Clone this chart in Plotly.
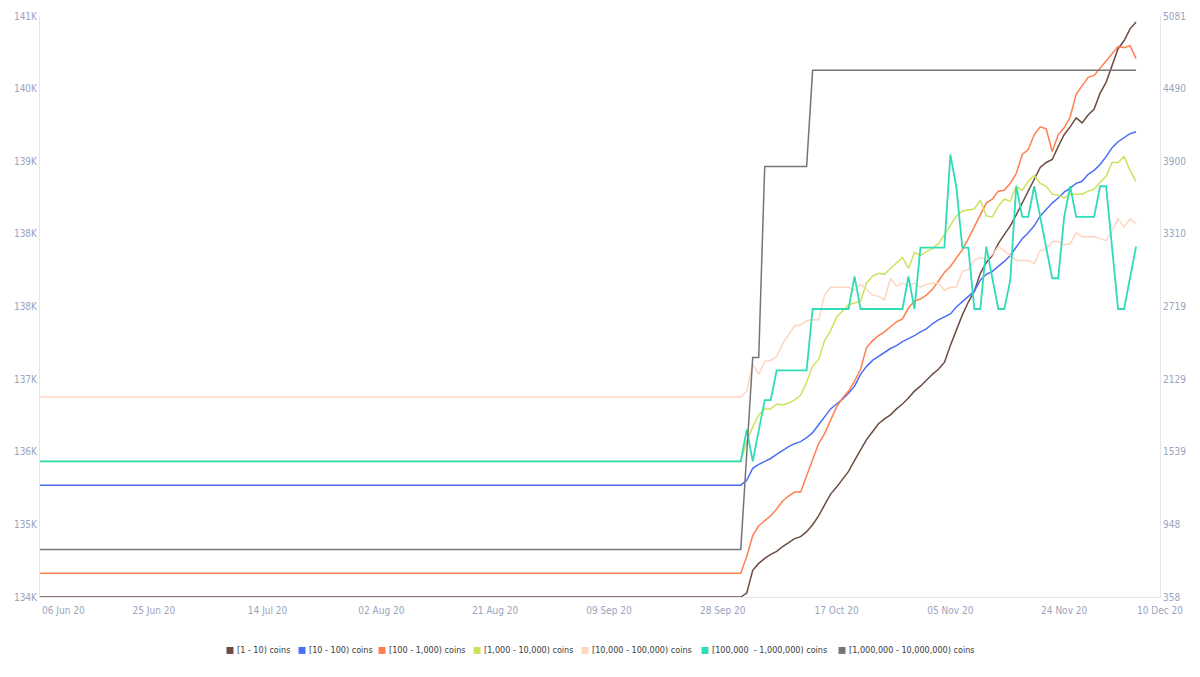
import plotly.graph_objects as go
import pandas as pd

# ---- data ----
dates = ["2020-06-06"] + [d.strftime("%Y-%m-%d") for d in pd.date_range("2020-10-01", "2020-12-06", freq="D")]

names = ["[1 - 10) coins", "[10 - 100) coins", "[100 - 1,000) coins", "[1,000 - 10,000) coins",
         "[10,000 - 100,000) coins", "[100,000  - 1,000,000) coins", "[1,000,000 - 10,000,000) coins"]
colors = ["#6D4C41", "#4C6EF5", "#FF7F4F", "#CBE35C", "#FFD5C2", "#2EDCB6", "#757575"]

s_1_10 = [134000, 134000, 134048, 134322, 134405, 134465, 134513, 134549, 134608, 134656, 134704, 134727,
          134787, 134871, 134978, 135109, 135240, 135324, 135419, 135514, 135646, 135765, 135896, 135991,
          136087, 136146, 136194, 136266, 136325, 136397, 136480, 136540, 136612, 136683, 136743, 136826,
          137029, 137220, 137399, 137554, 137685, 137899, 138031, 138114, 138257, 138365, 138472, 138603,
          138746, 138889, 139032, 139175, 139235, 139271, 139426, 139569, 139664, 139772, 139712, 139807,
          139879, 140070, 140201, 140404, 140606, 140702, 140845, 140928]
s_10_100 = [1267, 1267, 1307, 1404, 1436, 1460, 1484, 1517, 1549, 1581, 1605, 1621, 1653, 1694, 1758, 1822,
            1887, 1927, 1967, 2015, 2072, 2168, 2233, 2281, 2313, 2345, 2378, 2402, 2434, 2458, 2482, 2514,
            2538, 2579, 2611, 2635, 2659, 2715, 2756, 2796, 2844, 2933, 2981, 3005, 3045, 3086, 3134, 3206,
            3271, 3319, 3375, 3456, 3512, 3560, 3601, 3649, 3681, 3721, 3737, 3794, 3826, 3874, 3938, 4011,
            4059, 4091, 4124, 4140]
s_100_1k = [551, 551, 688, 857, 937, 978, 1018, 1074, 1138, 1179, 1211, 1211, 1340, 1460, 1605, 1686, 1798,
            1903, 1975, 2032, 2112, 2209, 2386, 2442, 2482, 2514, 2555, 2595, 2619, 2707, 2764, 2780, 2812,
            2860, 2925, 2997, 3045, 3118, 3182, 3271, 3367, 3472, 3560, 3592, 3657, 3665, 3721, 3802, 3955,
            3995, 4115, 4180, 4164, 3979, 4115, 4172, 4260, 4445, 4518, 4582, 4598, 4655, 4711, 4775, 4832,
            4824, 4840, 4735]
s_1k_10k = [1460, 1460, 1621, 1742, 1838, 1887, 1887, 1927, 1919, 1935, 1959, 1999, 2104, 2233, 2289, 2442,
            2522, 2635, 2683, 2732, 2748, 2764, 2909, 2965, 2989, 2981, 3029, 3070, 3118, 3029, 3158, 3134,
            3166, 3190, 3230, 3303, 3383, 3456, 3496, 3504, 3512, 3584, 3456, 3448, 3536, 3592, 3576, 3697,
            3665, 3737, 3786, 3721, 3697, 3633, 3625, 3601, 3633, 3633, 3633, 3657, 3673, 3729, 3778, 3890,
            3890, 3938, 3826, 3737]
s_10k_100k = [1983, 1983, 2032, 2249, 2168, 2273, 2281, 2313, 2418, 2490, 2563, 2571, 2603, 2611, 2611, 2812,
              2876, 2876, 2876, 2876, 2852, 2901, 2860, 2812, 2804, 2772, 2949, 2884, 2909, 2884, 2909, 2876,
              2901, 2909, 2909, 2852, 2876, 2876, 3005, 3021, 3094, 3118, 3102, 3142, 3206, 3174, 3134, 3094,
              3094, 3094, 3070, 3174, 3182, 3247, 3247, 3222, 3230, 3319, 3287, 3287, 3287, 3271, 3255, 3335,
              3432, 3367, 3432, 3391]
s_100k_1m = [1460, 1460, 1718, 1460, 1710, 1959, 1959, 2201, 2201, 2201, 2201, 2201, 2201, 2699, 2699, 2699,
             2699, 2699, 2699, 2699, 2965, 2699, 2699, 2699, 2699, 2699, 2699, 2699, 2699, 2965, 2699, 3198,
             3198, 3198, 3198, 3198, 3955, 3689, 3198, 3198, 2699, 2699, 3206, 2949, 2699, 2699, 2933, 3697,
             3448, 3448, 3697, 3448, 3190, 2949, 2949, 3448, 3697, 3448, 3448, 3448, 3448, 3697, 3697, 3198,
             2699, 2699, 2949, 3206]
s_1m_10m = [744, 744, 1525, 2305, 2305, 3858, 3858, 3858, 3858, 3858, 3858, 3858, 3858, 4639, 4639, 4639,
            4639, 4639, 4639, 4639, 4639, 4639, 4639, 4639, 4639, 4639, 4639, 4639, 4639, 4639, 4639, 4639,
            4639, 4639, 4639, 4639, 4639, 4639, 4639, 4639, 4639, 4639, 4639, 4639, 4639, 4639, 4639, 4639,
            4639, 4639, 4639, 4639, 4639, 4639, 4639, 4639, 4639, 4639, 4639, 4639, 4639, 4639, 4639, 4639,
            4639, 4639, 4639, 4639]

series = [s_1_10, s_10_100, s_100_1k, s_1k_10k, s_10k_100k, s_100k_1m, s_1m_10m]
axes = ["y", "y2", "y2", "y2", "y2", "y2", "y2"]
widths = [1.5, 1.5, 1.5, 1.5, 1.5, 1.8, 1.5]

left_tickvals = [134000, 134875, 135750, 136625, 137500, 138375, 139250, 140125, 141000]
left_ticktext = ["134K", "135K", "136K", "137K", "138K", "138K", "139K", "140K", "141K"]
right_tickvals = [358, 948, 1539, 2129, 2719, 3310, 3900, 4490, 5081]
right_ticktext = ["358", "948", "1539", "2129", "2719", "3310", "3900", "4490", "5081"]
x_tickvals = ["2020-06-25", "2020-07-14", "2020-08-02", "2020-08-21", "2020-09-09",
              "2020-09-28", "2020-10-17", "2020-11-05", "2020-11-24", "2020-12-10"]
first_x_label = "06 Jun 20"

FONT = "DejaVu Sans Condensed, Liberation Sans Narrow, Roboto, sans-serif"
TICK_COLOR = "#9AA3BE"
AXIS_LINE = "#E2E5EE"
TICK_SIZE = 10

# plot-area geometry (pixels) used to place the hand-drawn legend
PL, PR, PT, PB = 40, 1160, 10, 597
def px_x(x):
    return (x - PL) / (PR - PL)
def px_y(y):
    return (PB - y) / (PB - PT)

fig = go.Figure()
for name, color, vals, ax, w in zip(names, colors, series, axes, widths):
    fig.add_trace(go.Scatter(x=dates, y=vals, mode="lines", name=name, yaxis=ax,
                             line=dict(color=color, width=w), showlegend=False))

# legend: square swatch + label, laid out like the reference
legend_square_px = [230, 302, 382, 477, 585, 705, 842]
legend_y = 651
shapes = []
annotations = []
for name, color, sx in zip(names, colors, legend_square_px):
    shapes.append(dict(type="rect", xref="paper", yref="paper",
                       x0=px_x(sx - 3.5), x1=px_x(sx + 3.5), y0=px_y(legend_y + 3.5), y1=px_y(legend_y - 3.5),
                       fillcolor=color, line=dict(width=0)))
    annotations.append(dict(text=name, xref="paper", yref="paper", x=px_x(sx + 5), y=px_y(legend_y),
                            xanchor="left", yanchor="middle", showarrow=False,
                            font=dict(family=FONT, size=9, color="#3A3A3A")))
annotations.append(dict(text=first_x_label, xref="paper", yref="paper", x=px_x(63), y=0,
                        yshift=-13, xanchor="center", yanchor="middle", showarrow=False,
                        font=dict(family=FONT, size=TICK_SIZE, color=TICK_COLOR)))

fig.update_layout(
    width=1200, height=677,
    margin=dict(l=PL, r=1200 - PR, t=PT, b=677 - PB),
    paper_bgcolor="white", plot_bgcolor="white",
    font=dict(family=FONT, size=TICK_SIZE, color=TICK_COLOR),
    showlegend=False,
    xaxis=dict(type="date", range=["2020-06-06", "2020-12-10"], tickvals=x_tickvals,
               tickformat="%d %b %y", showgrid=False, zeroline=False, showline=True,
               linecolor=AXIS_LINE, linewidth=1, ticks="", ticklabelstandoff=4,
               tickfont=dict(family=FONT, size=TICK_SIZE, color=TICK_COLOR)),
    yaxis=dict(range=[134000, 141000], tickvals=left_tickvals, ticktext=left_ticktext,
               showgrid=False, zeroline=False, showline=True, linecolor=AXIS_LINE, linewidth=1,
               ticks="", tickfont=dict(family=FONT, size=TICK_SIZE, color=TICK_COLOR)),
    yaxis2=dict(range=[358, 5081], tickvals=right_tickvals, ticktext=right_ticktext,
                overlaying="y", side="right", showgrid=False, zeroline=False, showline=True,
                linecolor=AXIS_LINE, linewidth=1, ticks="",
                tickfont=dict(family=FONT, size=TICK_SIZE, color=TICK_COLOR)),
    shapes=shapes,
    annotations=annotations,
)

fig.write_html("out.html")
